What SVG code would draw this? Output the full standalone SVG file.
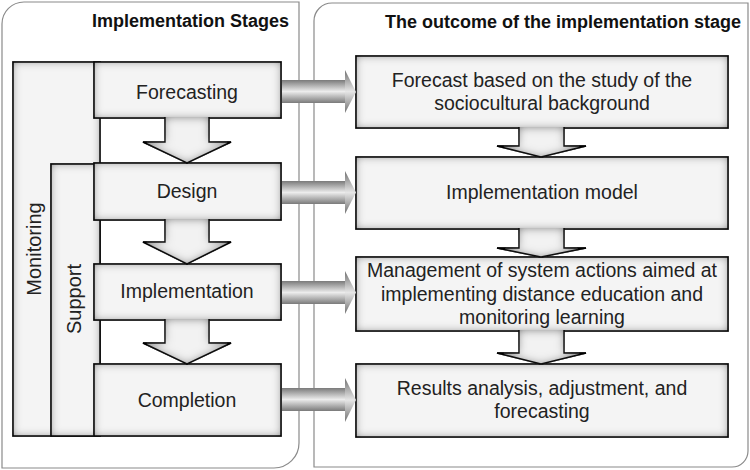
<svg xmlns="http://www.w3.org/2000/svg" width="750" height="470" viewBox="0 0 750 470">
<defs>
<filter id="inset" x="-30%" y="-30%" width="160%" height="160%">
<feComponentTransfer in="SourceAlpha" result="inv"><feFuncA type="table" tableValues="1 0"/></feComponentTransfer>
<feGaussianBlur in="inv" stdDeviation="5" result="blur"/>
<feFlood flood-color="#000" flood-opacity="0.9"/>
<feComposite in2="blur" operator="in"/>
<feComposite in2="SourceAlpha" operator="in" result="shadow"/>
<feMerge><feMergeNode in="SourceGraphic"/><feMergeNode in="shadow"/></feMerge>
</filter>
<linearGradient id="hg" x1="0" y1="0" x2="0" y2="1">
<stop offset="0" stop-color="#7a7a7a"/>
<stop offset="0.5" stop-color="#ececec"/>
<stop offset="1" stop-color="#7a7a7a"/>
</linearGradient>
<linearGradient id="hh" x1="0" y1="0" x2="0" y2="1">
<stop offset="0" stop-color="#707070"/>
<stop offset="0.5" stop-color="#e6e6e6"/>
<stop offset="1" stop-color="#707070"/>
</linearGradient>
</defs>
<style>
.panel{fill:#fff;stroke:#8a8a8a;stroke-width:1.2}
.box{fill:#f4f4f4;stroke:#1a1a1a;stroke-width:1.6;filter:url(#inset)}
.darr{fill:#f2f2f2;stroke:#1a1a1a;stroke-width:1.4;filter:url(#inset)}
.hs{fill:url(#hg)}
.hh{fill:url(#hh)}
.title{font-family:"Liberation Sans",Arial,sans-serif;font-weight:bold;font-size:18px;fill:#111;text-anchor:end}
.t{font-family:"Liberation Sans",Arial,sans-serif;font-size:19.5px;fill:#222;text-anchor:middle}
.v{font-family:"Liberation Sans",Arial,sans-serif;font-size:20px;fill:#222;text-anchor:middle}
</style>

<g id="panel-left">
<path class="panel" d="M2,468 V24 A22,22 0 0 1 24,2 H299 V443 A25,25 0 0 1 274,468 Z"/>
<text class="title" x="289" y="27">Implementation Stages</text>
</g>
<g id="panel-right">
<path class="panel" d="M314,467 V21 A18,18 0 0 1 332,3 H748 V451 A16,16 0 0 1 732,467 Z"/>
<text class="title" x="741" y="28">The outcome of the implementation stage</text>
</g>

<g id="monitoring">
<rect class="box" x="13" y="62" width="87" height="374"/>
<text class="v" transform="translate(41,249) rotate(-90)">Monitoring</text>
</g>
<g id="support">
<rect class="box" x="51" y="164" width="49" height="272"/>
<text class="v" transform="translate(81,299) rotate(-90)">Support</text>
</g>

<g id="forecasting">
<rect class="box" x="94" y="62" width="187" height="56"/>
<text class="t" x="187" y="99">Forecasting</text>
</g>
<g id="design">
<rect class="box" x="94" y="163" width="187" height="57"/>
<text class="t" x="187" y="198">Design</text>
</g>
<g id="implementation">
<rect class="box" x="94" y="264" width="187" height="56"/>
<text class="t" x="187" y="298">Implementation</text>
</g>
<g id="completion">
<rect class="box" x="94" y="364" width="187" height="72"/>
<text class="t" x="187" y="407">Completion</text>
</g>

<g id="outcome-forecast">
<rect class="box" x="356" y="56" width="372" height="72"/>
<text class="t" x="542" y="87">Forecast based on the study of the</text>
<text class="t" x="542" y="110">sociocultural background</text>
</g>
<g id="outcome-model">
<rect class="box" x="356" y="157" width="372" height="72"/>
<text class="t" x="542" y="199">Implementation model</text>
</g>
<g id="outcome-management">
<rect class="box" x="356" y="257" width="372" height="74"/>
<text class="t" x="542" y="277">Management of system actions aimed at</text>
<text class="t" x="542" y="301">implementing distance education and</text>
<text class="t" x="542" y="324">monitoring learning</text>
</g>
<g id="outcome-results">
<rect class="box" x="356" y="364" width="372" height="73"/>
<text class="t" x="542" y="395">Results analysis, adjustment, and</text>
<text class="t" x="542" y="418">forecasting</text>
</g>

<g id="connectors">
<path class="darr" d="M165,117 V142 H143 L187,163 L231,142 H209 V117"/>
<path class="darr" d="M165,219 V242 H143 L187,264 L231,242 H209 V219"/>
<path class="darr" d="M165,319 V343 H143 L187,364 L231,343 H209 V319"/>

<path class="darr" d="M519,127 V146 H497 L541,157 L586,146 H564 V127"/>
<path class="darr" d="M519,228 V248 H497 L541,257 L586,248 H564 V228"/>
<path class="darr" d="M519,330 V353 H497 L541,364 L586,353 H564 V330"/>

<rect class="hs" x="282" y="80" width="64" height="23"/>
<polygon class="hh" points="345,70 356,92 345,113"/>
<rect class="hs" x="282" y="181" width="64" height="23"/>
<polygon class="hh" points="345,171 356,192.5 345,214"/>
<rect class="hs" x="282" y="281" width="64" height="23"/>
<polygon class="hh" points="345,271 356,292.5 345,314"/>
<rect class="hs" x="282" y="388" width="64" height="23"/>
<polygon class="hh" points="345,378 356,400 345,422"/>
</g>
</svg>
